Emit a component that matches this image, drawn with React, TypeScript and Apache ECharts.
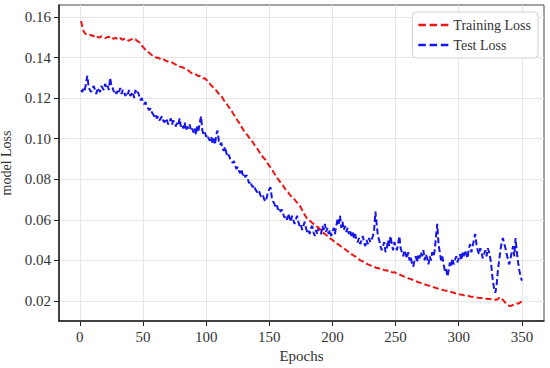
import React, { useEffect, useRef } from "react";
import * as echarts from "echarts";

const xTicks = [0, 50, 100, 150, 200, 250, 300, 350];
const yTicks = [0.02, 0.04, 0.06, 0.08, 0.1, 0.12, 0.14, 0.16];

const trainLoss = [
  0.158, 0.155, 0.153, 0.152, 0.1515, 0.1512, 0.151, 0.1512, 0.1508, 0.151,
  0.1505, 0.1508, 0.15, 0.1502, 0.1498, 0.15, 0.1505, 0.1502, 0.1498, 0.1496,
  0.1498, 0.1502, 0.15, 0.1505, 0.15, 0.1495, 0.1492, 0.1498, 0.1494, 0.149,
  0.1492, 0.1496, 0.149, 0.1488, 0.1492, 0.1494, 0.149, 0.1486, 0.1482, 0.1488,
  0.149, 0.1492, 0.1488, 0.149, 0.1484, 0.148, 0.1475, 0.147, 0.146, 0.1452,
  0.1445, 0.1438, 0.1432, 0.1428, 0.1422, 0.1418, 0.1412, 0.1408, 0.1405, 0.1402,
  0.1398, 0.14, 0.1396, 0.1392, 0.139, 0.1393, 0.1388, 0.1384, 0.1382, 0.138,
  0.1378, 0.1375, 0.1376, 0.1372, 0.1368, 0.1365, 0.1362, 0.136, 0.1356, 0.1354,
  0.1352, 0.135, 0.1346, 0.1342, 0.134, 0.1336, 0.133, 0.1326, 0.1322, 0.132,
  0.1318, 0.1316, 0.1312, 0.1308, 0.131, 0.1306, 0.13, 0.1296, 0.1298, 0.1292,
  0.1285, 0.1278, 0.127, 0.1262, 0.1258, 0.125, 0.1244, 0.1238, 0.123, 0.1222,
  0.1215, 0.121, 0.12, 0.119, 0.1182, 0.1175, 0.1165, 0.1155, 0.1148, 0.114,
  0.1128, 0.1118, 0.111, 0.1098, 0.1088, 0.108, 0.107, 0.1058, 0.1048, 0.1038,
  0.1032, 0.1022, 0.1015, 0.1005, 0.0998, 0.099, 0.0982, 0.0972, 0.0962, 0.0955,
  0.0945, 0.0935, 0.0928, 0.0918, 0.0908, 0.0902, 0.0895, 0.0885, 0.0875, 0.0866,
  0.0858, 0.085, 0.0838, 0.0828, 0.0818, 0.0808, 0.08, 0.0792, 0.0782, 0.0775,
  0.0768, 0.0758, 0.0748, 0.074, 0.0735, 0.0725, 0.0718, 0.0712, 0.0705, 0.07,
  0.0692, 0.0685, 0.0678, 0.067, 0.066, 0.0648, 0.0638, 0.0625, 0.0615, 0.0605,
  0.0598, 0.0595, 0.059, 0.0585, 0.058, 0.0575, 0.057, 0.0565, 0.056, 0.0555,
  0.055, 0.0542, 0.0535, 0.053, 0.0525, 0.052, 0.0512, 0.0508, 0.0505, 0.05,
  0.0495, 0.049, 0.0485, 0.048, 0.0478, 0.0472, 0.0468, 0.0462, 0.046, 0.0455,
  0.045, 0.0445, 0.0442, 0.0435, 0.043, 0.0428, 0.0422, 0.042, 0.0415, 0.041,
  0.0405, 0.04, 0.0398, 0.0395, 0.0392, 0.039, 0.0385, 0.038, 0.0378, 0.0375,
  0.0372, 0.037, 0.0368, 0.0365, 0.0362, 0.0362, 0.036, 0.0358, 0.0356, 0.0355,
  0.0352, 0.035, 0.0352, 0.0348, 0.0345, 0.0346, 0.0342, 0.034, 0.0342, 0.0338,
  0.0335, 0.0332, 0.033, 0.0328, 0.0325, 0.0322, 0.032, 0.0318, 0.0315, 0.0312,
  0.031, 0.0308, 0.0305, 0.0302, 0.03, 0.0298, 0.0295, 0.0292, 0.029, 0.0288,
  0.0285, 0.0284, 0.0282, 0.028, 0.0278, 0.0276, 0.0275, 0.0272, 0.027, 0.0268,
  0.0266, 0.0264, 0.0262, 0.026, 0.0258, 0.0256, 0.0255, 0.0253, 0.0252, 0.025,
  0.0248, 0.0247, 0.0245, 0.0244, 0.0242, 0.024, 0.0238, 0.0237, 0.0235, 0.0234,
  0.0232, 0.0231, 0.023, 0.0228, 0.0227, 0.0226, 0.0225, 0.0224, 0.0222, 0.0221,
  0.022, 0.022, 0.0218, 0.0217, 0.0216, 0.0215, 0.0214, 0.0214, 0.0213, 0.0212,
  0.0212, 0.0211, 0.021, 0.021, 0.0209, 0.0208, 0.0208, 0.0207, 0.0206, 0.0206,
  0.021, 0.0215, 0.0218, 0.021, 0.0205, 0.0198, 0.019, 0.0182, 0.0178, 0.0176,
  0.0175, 0.0178, 0.018, 0.0182, 0.0185, 0.0188, 0.0186, 0.019, 0.0194, 0.0196,
];

const testLoss = [
  0.124, 0.123, 0.125, 0.124, 0.128, 0.131, 0.125, 0.124, 0.123, 0.125,
  0.126, 0.124, 0.122, 0.125, 0.124, 0.123, 0.126, 0.125, 0.124, 0.127,
  0.125, 0.126, 0.124, 0.13, 0.126, 0.125, 0.123, 0.124, 0.122, 0.124,
  0.123, 0.125, 0.122, 0.124, 0.123, 0.121, 0.123, 0.122, 0.124, 0.121,
  0.122, 0.123, 0.12, 0.124, 0.122, 0.123, 0.121, 0.119, 0.12, 0.118,
  0.117, 0.118, 0.116, 0.115, 0.114, 0.115, 0.113, 0.112, 0.111, 0.112,
  0.11, 0.111, 0.109, 0.11, 0.111, 0.109, 0.108, 0.11, 0.109, 0.107,
  0.108, 0.11, 0.107, 0.109, 0.108, 0.106, 0.108, 0.107, 0.11, 0.106,
  0.107, 0.105, 0.108, 0.104, 0.106, 0.105, 0.107, 0.104, 0.105, 0.103,
  0.105, 0.102, 0.106, 0.104, 0.108, 0.111, 0.104, 0.102, 0.103, 0.101,
  0.102, 0.1, 0.099, 0.101, 0.098, 0.1, 0.097, 0.102, 0.104, 0.099,
  0.097, 0.098, 0.095, 0.094, 0.096, 0.093, 0.091, 0.092, 0.09, 0.089,
  0.088, 0.089, 0.087, 0.085, 0.086, 0.084, 0.083, 0.085, 0.082, 0.083,
  0.081, 0.082, 0.08, 0.078, 0.079, 0.077, 0.076, 0.077, 0.075, 0.074,
  0.073, 0.074, 0.072, 0.071, 0.072, 0.07, 0.069, 0.071, 0.074, 0.075,
  0.076, 0.071, 0.069, 0.068, 0.066, 0.067, 0.065, 0.066, 0.064, 0.065,
  0.063, 0.061, 0.062, 0.06, 0.063, 0.061, 0.059, 0.062, 0.06, 0.058,
  0.06, 0.062, 0.059, 0.057, 0.058, 0.055, 0.057, 0.059, 0.056, 0.054,
  0.055, 0.053, 0.056, 0.057, 0.054, 0.052, 0.055, 0.053, 0.056, 0.054,
  0.053, 0.057, 0.055, 0.058, 0.054, 0.056, 0.053, 0.055, 0.052, 0.054,
  0.056, 0.053, 0.057, 0.06, 0.058, 0.062, 0.056, 0.059, 0.055, 0.057,
  0.054, 0.056, 0.053, 0.055, 0.052, 0.054, 0.051, 0.053, 0.05, 0.049,
  0.051, 0.048, 0.05, 0.052, 0.049, 0.047, 0.05, 0.048, 0.051, 0.049,
  0.05, 0.052, 0.055, 0.064, 0.058, 0.052, 0.05, 0.047, 0.045, 0.047,
  0.049, 0.044, 0.046, 0.05, 0.047, 0.052, 0.048, 0.045, 0.049, 0.047,
  0.045, 0.048, 0.052, 0.046, 0.044, 0.042, 0.045, 0.043, 0.041, 0.044,
  0.04, 0.042, 0.038, 0.037, 0.04, 0.042, 0.039, 0.043, 0.041, 0.044,
  0.042, 0.045, 0.04, 0.043, 0.041, 0.038, 0.042, 0.04, 0.044, 0.042,
  0.045, 0.052, 0.058, 0.048, 0.044, 0.04, 0.042, 0.038, 0.035, 0.036,
  0.032, 0.035, 0.039, 0.037, 0.041, 0.038, 0.04, 0.042, 0.039, 0.041,
  0.043, 0.04, 0.044, 0.042, 0.045, 0.043, 0.041, 0.046, 0.048, 0.044,
  0.047, 0.05, 0.053, 0.048, 0.045, 0.043, 0.046, 0.044, 0.041, 0.043,
  0.045, 0.042, 0.046, 0.044, 0.041, 0.036, 0.03, 0.026, 0.024, 0.028,
  0.035, 0.04, 0.045, 0.049, 0.051, 0.048, 0.046, 0.043, 0.04, 0.038,
  0.041, 0.044, 0.047, 0.042, 0.051, 0.044, 0.039, 0.035, 0.032, 0.03,
];

const FONT = "'Times New Roman', 'Liberation Serif', Times, serif";
const RED = "#ee1414";
const BLUE = "#1414ee";

export default function App() {
  const ref = useRef<HTMLDivElement>(null);
  useEffect(() => {
    if (!ref.current) return;
    const chart = echarts.init(ref.current, undefined, { renderer: "svg" });
    const dashIcon = "path://M0,0h7v2.5h-7z M10.5,0h7v2.5h-7z M21,0h7v2.5h-7z";
    chart.setOption({
      animation: false,
      backgroundColor: "#ffffff",
      textStyle: { fontFamily: FONT },
      grid: {
        left: 59,
        right: 6,
        top: 5,
        bottom: 47,
        outerBoundsMode: "none",
        containLabel: false,
        show: true,
        borderColor: "#444",
        borderWidth: 1,
      },
      legend: {
        orient: "vertical",
        right: 12,
        top: 12,
        padding: [6, 7, 6, 6],
        itemGap: 6,
        itemWidth: 30,
        itemHeight: 14,
        borderColor: "#d0d0d0",
        borderWidth: 1,
        borderRadius: 4,
        backgroundColor: "#ffffff",
        textStyle: { fontFamily: FONT, fontSize: 14, color: "#333" },
        data: [
          { name: "Training Loss", icon: dashIcon },
          { name: "Test Loss", icon: dashIcon },
        ],
      },
      xAxis: {
        type: "value",
        min: -16.5,
        max: 367.5,
        name: "Epochs",
        nameLocation: "middle",
        nameGap: 27,
        nameTextStyle: { fontFamily: FONT, fontSize: 15, color: "#333" },
        axisLine: { show: true, onZero: false, lineStyle: { color: "#222", width: 1.5 } },
        axisTick: { show: true, customValues: xTicks, length: 5, lineStyle: { color: "#222", width: 1 } },
        axisLabel: {
          customValues: xTicks,
          fontFamily: FONT,
          fontSize: 15,
          color: "#333",
          margin: 8,
          formatter: (v: number) => String(v),
        },
        splitLine: { show: true, lineStyle: { color: "#e6e6e6", width: 1 } },
      },
      yAxis: {
        type: "value",
        min: 0.0101,
        max: 0.1659,
        name: "model Loss",
        nameLocation: "middle",
        nameGap: 39,
        nameTextStyle: { fontFamily: FONT, fontSize: 14, color: "#333" },
        axisLine: { show: true, onZero: false, lineStyle: { color: "#222", width: 1.5 } },
        axisTick: { show: true, customValues: yTicks, length: 5, lineStyle: { color: "#222", width: 1 } },
        axisLabel: {
          customValues: yTicks,
          fontFamily: FONT,
          fontSize: 15,
          color: "#333",
          margin: 8,
          formatter: (v: number) => v.toFixed(2),
        },
        splitLine: { show: true, lineStyle: { color: "#e6e6e6", width: 1 } },
      },
      series: [
        {
          name: "Training Loss",
          type: "line",
          data: trainLoss.map((v, i) => [i + 1, v]),
          showSymbol: false,
          symbol: "none",
          color: RED,
          lineStyle: { color: RED, width: 2, type: [6, 3] },
          z: 3,
        },
        {
          name: "Test Loss",
          type: "line",
          data: testLoss.map((v, i) => [i + 1, v]),
          showSymbol: false,
          symbol: "none",
          color: BLUE,
          lineStyle: { color: BLUE, width: 2, type: [6, 3] },
          z: 2,
        },
      ],
    });
    return () => chart.dispose();
  }, []);
  return (
    <div
      ref={ref}
      style={{ position: "fixed", left: 0, top: 0, width: 550, height: 368 }}
    />
  );
}
